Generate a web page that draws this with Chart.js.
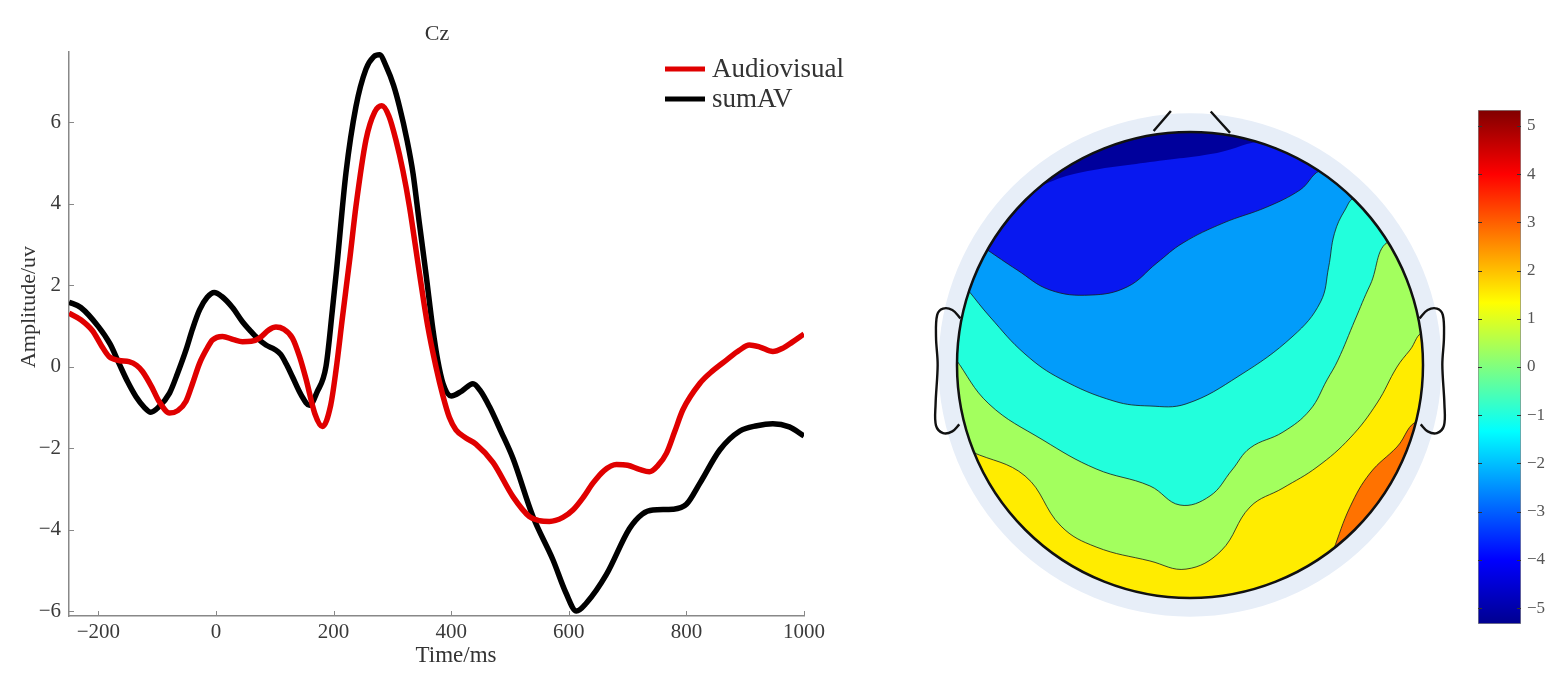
<!DOCTYPE html>
<html>
<head>
<meta charset="utf-8">
<script src="https://cdn.jsdelivr.net/npm/chart.js@4.4.1/dist/chart.umd.min.js"></script>
<style>
  html, body { margin: 0; padding: 0; background: #fff; }
  #page { position: relative; width: 1550px; height: 675px; overflow: hidden; }
  canvas { position: absolute; }
</style>
</head>
<body>
<div id="page">
  <canvas id="erpChart" width="870" height="675" style="left:0px;top:0px"></canvas>
  <canvas id="topoChart" width="560" height="560" style="left:900px;top:85px"></canvas>
  <canvas id="barChart" width="90" height="560" style="left:1460px;top:90px"></canvas>
</div>
<script>
// --- WAVEFORM DATA (Cz) ---
const avTime = [-250,-230,-210,-195,-182,-165,-148,-135,-125,-110,-97,-79,-65,-51,-40,-28,-15,-6,11,30,45,60,74,90,102,115,130,142,153,168,181,195,204,215,228,238,255,270,282,294,306,318,329,346,360,374,386,397,408,425,442,471,505,533,550,567,590,607,625,641,660,681,700,720,737,752,766,780,794,823,845,868,890,907,925,947,965,980,1000];
const avValues = [1.31,1.15,0.88,0.52,0.25,0.15,0.12,0.03,-0.12,-0.48,-0.85,-1.14,-1.08,-0.85,-0.42,0.08,0.45,0.65,0.74,0.66,0.61,0.62,0.70,0.90,0.97,0.92,0.70,0.25,-0.30,-1.15,-1.47,-0.95,-0.10,1.2,2.7,3.93,5.56,6.25,6.4,6.15,5.56,4.8,3.93,2.29,1.0,0.0,-0.72,-1.25,-1.55,-1.75,-1.90,-2.35,-3.19,-3.68,-3.78,-3.80,-3.70,-3.52,-3.2,-2.86,-2.55,-2.40,-2.42,-2.52,-2.58,-2.42,-2.13,-1.6,-1.06,-0.41,-0.10,0.16,0.40,0.53,0.48,0.37,0.46,0.60,0.80];

const sumTime = [-250,-230,-200,-180,-165,-150,-136,-122,-111,-98,-79,-65,-51,-40,-28,-15,-3,10,28,45,57,70,85,100,110,120,130,145,159,172,187,198,205,221,238,255,268,278,290,302,312,325,335,346,357,369,377,386,400,418,437,450,465,485,505,539,573,595,613,630,664,703,725,743,777,800,823,857,891,920,947,975,1000];
const sumValues = [1.58,1.45,0.98,0.55,0.08,-0.38,-0.74,-1.0,-1.12,-1.0,-0.65,-0.15,0.41,0.92,1.39,1.70,1.82,1.72,1.45,1.10,0.90,0.70,0.53,0.42,0.30,0.05,-0.25,-0.70,-0.95,-0.62,0.0,1.4,2.37,4.75,6.38,7.3,7.6,7.65,7.35,6.9,6.38,5.55,4.75,3.5,2.29,0.9,0.16,-0.41,-0.72,-0.6,-0.42,-0.6,-0.98,-1.6,-2.25,-3.68,-4.74,-5.55,-6.0,-5.8,-5.1,-3.98,-3.62,-3.52,-3.5,-3.38,-2.86,-2.04,-1.58,-1.45,-1.40,-1.48,-1.70];

const xTickValues = [-200, 0, 200, 400, 600, 800, 1000];
const yTickValues = [-6, -4, -2, 0, 2, 4, 6];

// --- TOPOGRAPHIC MAP DATA (head radius = 1) ---
const contourNavy = [[-0.708,0.725],[-0.601,0.785],[-0.459,0.828],[-0.172,0.871],[0.116,0.910],[0.326,0.961]];
const contourBlue = [[-0.876,0.498],[-0.742,0.408],[-0.601,0.322],[-0.429,0.300],[-0.270,0.335],[-0.142,0.438],[-0.030,0.524],[0.142,0.609],[0.330,0.678],[0.472,0.751],[0.575,0.837]];
const contourMidBlue = [[-0.953,0.322],[-0.858,0.206],[-0.708,0.047],[-0.554,-0.060],[-0.326,-0.155],[-0.172,-0.176],[-0.017,-0.167],[0.210,-0.047],[0.442,0.124],[0.560,0.270],[0.595,0.420],[0.620,0.565],[0.665,0.665],[0.712,0.717]];
const contourCyan = [[-1.009,0.030],[-0.863,-0.167],[-0.631,-0.322],[-0.403,-0.446],[-0.172,-0.519],[-0.043,-0.601],[0.086,-0.562],[0.180,-0.451],[0.258,-0.356],[0.399,-0.288],[0.515,-0.193],[0.588,-0.064],[0.635,0.021],[0.708,0.193],[0.773,0.343],[0.871,0.536]];
const contourGreen = [[-0.936,-0.373],[-0.708,-0.476],[-0.554,-0.691],[-0.403,-0.781],[-0.172,-0.841],[-0.017,-0.876],[0.133,-0.798],[0.258,-0.609],[0.399,-0.528],[0.545,-0.438],[0.687,-0.313],[0.803,-0.163],[0.888,-0.009],[0.944,0.064],[1.009,0.142]];
const contourOrange = [[0.614,-0.798],[0.687,-0.609],[0.773,-0.464],[0.888,-0.352],[0.987,-0.240]];
const topoBase = [[-1.6,-1.6],[1.6,-1.6]];

const leftEar = [[-0.985,0.20],[-1.02,0.236],[-1.06,0.242],[-1.085,0.215],[-1.09,0.12],[-1.083,0.0],[-1.092,-0.17],[-1.09,-0.26],[-1.06,-0.292],[-1.02,-0.285],[-0.99,-0.255]];
const rightEar = [[0.985,0.20],[1.02,0.236],[1.06,0.242],[1.085,0.215],[1.09,0.12],[1.083,0.0],[1.092,-0.17],[1.09,-0.26],[1.06,-0.292],[1.02,-0.285],[0.99,-0.255]];
const noseLeft = [[-0.156,1.004],[-0.082,1.09]];
const noseRight = [[0.089,1.088],[0.172,0.996]];

// --- COLORBAR DATA ---
const cbRange = [-5.33, 5.33];
const cbTickValues = [-5, -4, -3, -2, -1, 0, 1, 2, 3, 4, 5];
const jetStops = [0, 0.125, 0.375, 0.625, 0.875, 1];
const jetColors = ['#00008f', '#0000ff', '#00ffff', '#ffff00', '#ff0000', '#800000'];

document.addEventListener('DOMContentLoaded', function () {

    Chart.defaults.font.family = "'Liberation Serif', 'Times New Roman', serif";
    const fmt = v => (v < 0 ? '\u2212' + Math.abs(v) : String(v));

    // --- WAVEFORM CHART ---
    const erpDecor = {
        id: 'erpDecor',
        afterDraw(chart) {
            const { ctx, chartArea, scales: { x, y } } = chart;
            ctx.save();
            // short inward ticks, matlab style
            ctx.strokeStyle = '#888';
            ctx.lineWidth = 1;
            ctx.beginPath();
            x.ticks.forEach(t => {
                const px = Math.round(x.getPixelForValue(t.value)) + 0.5;
                ctx.moveTo(px, chartArea.bottom);
                ctx.lineTo(px, chartArea.bottom - 5);
            });
            y.ticks.forEach(t => {
                const py = Math.round(y.getPixelForValue(t.value)) + 0.5;
                ctx.moveTo(chartArea.left, py);
                ctx.lineTo(chartArea.left + 5, py);
            });
            ctx.stroke();

            ctx.fillStyle = '#333';
            ctx.font = "22px 'Liberation Serif'";
            ctx.textAlign = 'center';
            ctx.fillText('Cz', 437, 40);
            ctx.font = "23px 'Liberation Serif'";
            ctx.fillText('Time/ms', 456, 662);
            ctx.save();
            ctx.translate(29, 307);
            ctx.rotate(-Math.PI / 2);
            ctx.textBaseline = 'middle';
            ctx.font = "22px 'Liberation Serif'";
            ctx.fillText('Amplitude/uv', 0, 0);
            ctx.restore();

            // legend in the upper right
            ctx.font = "27px 'Liberation Serif'";
            ctx.textAlign = 'left';
            chart.data.datasets.forEach((ds, i) => {
                const ly = 69 + i * 30;
                ctx.strokeStyle = ds.borderColor;
                ctx.lineWidth = 5;
                ctx.beginPath();
                ctx.moveTo(665, ly);
                ctx.lineTo(705, ly);
                ctx.stroke();
                ctx.fillText(ds.label, 712, ly + 8);
            });
            ctx.restore();
        }
    };

    new Chart(document.getElementById('erpChart'), {
        type: 'line',
        data: {
            datasets: [{
                label: 'Audiovisual',
                data: avTime.map((t, i) => ({ x: t, y: avValues[i] })),
                borderColor: '#e00000',
                borderWidth: 5.5,
                pointRadius: 0,
                cubicInterpolationMode: 'monotone'
            }, {
                label: 'sumAV',
                data: sumTime.map((t, i) => ({ x: t, y: sumValues[i] })),
                borderColor: '#000000',
                borderWidth: 5.5,
                pointRadius: 0,
                cubicInterpolationMode: 'monotone'
            }]
        },
        options: {
            responsive: false,
            animation: false,
            layout: { padding: { top: 52, right: 66, left: 0, bottom: 0 } },
            scales: {
                x: {
                    type: 'linear',
                    min: -250,
                    max: 1000,
                    afterBuildTicks: s => { s.ticks = xTickValues.map(v => ({ value: v })); },
                    afterFit: s => { s.height = 59; },
                    grid: { drawOnChartArea: false, drawTicks: false },
                    border: { color: '#888', width: 1.5 },
                    ticks: { padding: 4, color: '#3a3a3a', font: { size: 21 }, maxRotation: 0, callback: fmt }
                },
                y: {
                    min: -6.12,
                    max: 7.72,
                    afterBuildTicks: s => { s.ticks = yTickValues.map(v => ({ value: v })); },
                    afterFit: s => { s.width = 69; },
                    grid: { drawOnChartArea: false, drawTicks: false },
                    border: { color: '#888', width: 1.5 },
                    ticks: { padding: 8, color: '#3a3a3a', font: { size: 21 }, callback: fmt }
                }
            },
            plugins: {
                legend: { display: false },
                tooltip: { enabled: false }
            }
        },
        plugins: [erpDecor]
    });

    // --- TOPOGRAPHIC MAP ---
    const toPoints = line => line.map(([x, y]) => ({ x, y }));

    // region above a contour line, closed far outside the head
    function regionAbove(line) {
        const pts = toPoints(line);
        const first = line[0], last = line[line.length - 1];
        pts.push({ x: 1.6, y: last[1] }, { x: 1.6, y: 1.6 }, { x: -1.6, y: 1.6 }, { x: -1.6, y: first[1] });
        return pts;
    }

    // region to the lower right of a contour line
    function regionBelowRight(line) {
        const pts = toPoints(line);
        const first = line[0], last = line[line.length - 1];
        pts.push({ x: 1.6, y: last[1] }, { x: 1.6, y: -1.6 }, { x: first[0], y: -1.6 });
        return pts;
    }

    const band = (data, color, border) => ({
        data: data,
        backgroundColor: color,
        borderColor: '#1a1a1a',
        borderWidth: border,
        fill: 'shape',
        showLine: true,
        pointRadius: 0,
        tension: 0.4
    });

    const outline = data => ({
        data: toPoints(data),
        outline: true,
        borderColor: '#111',
        borderWidth: 2.4,
        showLine: true,
        fill: false,
        pointRadius: 0,
        tension: 0.35
    });

    const headPlugin = {
        id: 'head',
        beforeDatasetsDraw(chart) {
            const { ctx, scales: { x, y } } = chart;
            const cx = x.getPixelForValue(0), cy = y.getPixelForValue(0);
            const r = x.getPixelForValue(1) - cx;
            ctx.save();
            ctx.beginPath();
            ctx.arc(cx, cy, r * 1.08, 0, Math.PI * 2);
            ctx.fillStyle = '#e7eef8';
            ctx.fill();
            ctx.restore();
            // clip the colour bands to the head
            ctx.save();
            ctx.beginPath();
            ctx.arc(cx, cy, r, 0, Math.PI * 2);
            ctx.clip();
            chart.$headClip = true;
        },
        beforeDatasetDraw(chart, args) {
            if (chart.$headClip && chart.data.datasets[args.index].outline) {
                chart.ctx.restore();
                chart.$headClip = false;
            }
        },
        afterDatasetsDraw(chart) {
            const { ctx, scales: { x, y } } = chart;
            if (chart.$headClip) {
                ctx.restore();
                chart.$headClip = false;
            }
            const cx = x.getPixelForValue(0), cy = y.getPixelForValue(0);
            const r = x.getPixelForValue(1) - cx;
            ctx.save();
            ctx.beginPath();
            ctx.arc(cx, cy, r, 0, Math.PI * 2);
            ctx.strokeStyle = '#111';
            ctx.lineWidth = 2.5;
            ctx.stroke();
            ctx.restore();
        }
    };

    new Chart(document.getElementById('topoChart'), {
        type: 'scatter',
        data: {
            // first dataset is drawn last (on top)
            datasets: [
                outline(noseLeft),
                outline(noseRight),
                outline(leftEar),
                outline(rightEar),
                band(regionAbove(contourNavy), '#00009c', 0),
                band(regionAbove(contourBlue), '#0818f0', 0.8),
                band(regionAbove(contourMidBlue), '#029cfa', 0.8),
                band(regionAbove(contourCyan), '#22ffdc', 0.8),
                band(regionAbove(contourGreen), '#a3ff5e', 0.8),
                band(regionBelowRight(contourOrange), '#ff7200', 0.8),
                band(regionAbove(topoBase), '#ffec00', 0)
            ]
        },
        options: {
            responsive: false,
            animation: false,
            layout: { padding: 0 },
            scales: {
                x: { display: false, min: -1.2446, max: 1.1588 },
                y: { display: false, min: -1.2017, max: 1.2017 }
            },
            plugins: {
                legend: { display: false },
                tooltip: { enabled: false }
            }
        },
        plugins: [headPlugin]
    });

    // --- COLORBAR ---
    const cbTicks = {
        id: 'cbTicks',
        afterDatasetsDraw(chart) {
            const { ctx, chartArea: a, scales: { y } } = chart;
            ctx.save();
            ctx.strokeStyle = '#333';
            ctx.lineWidth = 1;
            ctx.beginPath();
            y.ticks.forEach(t => {
                const py = Math.round(y.getPixelForValue(t.value)) + 0.5;
                ctx.moveTo(a.left, py);
                ctx.lineTo(a.left + 4, py);
                ctx.moveTo(a.right - 4, py);
                ctx.lineTo(a.right, py);
            });
            ctx.stroke();
            ctx.restore();
        }
    };

    new Chart(document.getElementById('barChart'), {
        type: 'bar',
        data: {
            labels: [''],
            datasets: [{
                data: [cbRange],
                backgroundColor: function (context) {
                    const { ctx, chartArea } = context.chart;
                    if (!chartArea) return '#000';
                    const g = ctx.createLinearGradient(0, chartArea.bottom, 0, chartArea.top);
                    jetStops.forEach((s, i) => g.addColorStop(s, jetColors[i]));
                    return g;
                },
                borderColor: '#8a8a8a',
                borderWidth: 1,
                borderSkipped: false,
                barPercentage: 1,
                categoryPercentage: 1
            }]
        },
        options: {
            responsive: false,
            animation: false,
            layout: { padding: { left: 18, top: 20, bottom: 26, right: 0 } },
            scales: {
                x: { display: false },
                y: {
                    position: 'right',
                    min: cbRange[0],
                    max: cbRange[1],
                    afterBuildTicks: s => { s.ticks = cbTickValues.map(v => ({ value: v })); },
                    afterFit: s => { s.width = 29; },
                    grid: { drawOnChartArea: false, drawTicks: false },
                    border: { display: false },
                    ticks: { padding: 6, color: '#555', font: { size: 17 }, callback: fmt }
                }
            },
            plugins: {
                legend: { display: false },
                tooltip: { enabled: false }
            }
        },
        plugins: [cbTicks]
    });
});
</script>
</body>
</html>
